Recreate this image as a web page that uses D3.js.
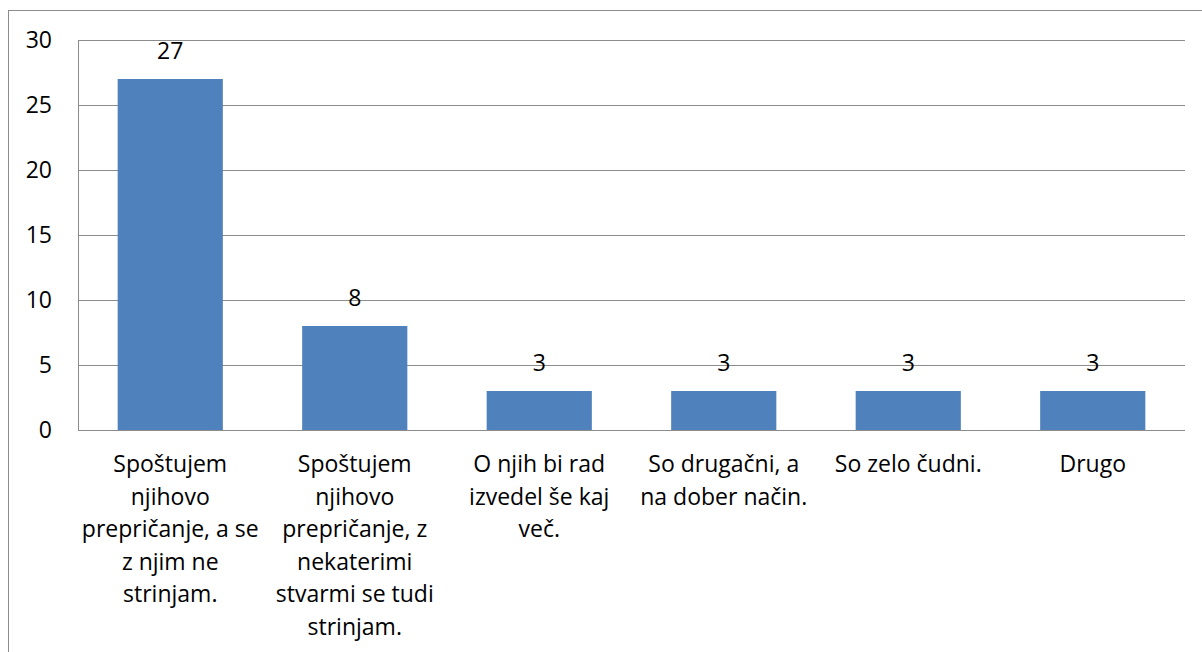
<!DOCTYPE html>
<html>
<head>
<meta charset="utf-8">
<script src="https://cdn.jsdelivr.net/npm/d3@7"></script>
<style>
  body { margin: 0; background: #fff; }
  text { font-family: "Open Sans", "Noto Sans", sans-serif; fill: #000; }
</style>
</head>
<body>
<div id="chart"></div>
<script>
(function() {

  // data
  var categories = [
    "Spoštujem\nnjihovo\nprepričanje, a se\nz njim ne\nstrinjam.",
    "Spoštujem\nnjihovo\nprepričanje, z\nnekaterimi\nstvarmi se tudi\nstrinjam.",
    "O njih bi rad\nizvedel še kaj\nveč.",
    "So drugačni, a\nna dober način.",
    "So zelo čudni.",
    "Drugo"
  ];
  var values = [27, 8, 3, 3, 3, 3];
  var yTicks = [0, 5, 10, 15, 20, 25, 30];

  var W = 1202, H = 652;
  var margin = { top: 40, left: 78, right: 17, bottom: 222 },
  width = W - margin.left - margin.right,
  height = H - margin.top - margin.bottom;

  var fontSize = "23px";

  var svg = d3.select("#chart")
        .append("svg")
        .attr("width", W)
        .attr("height", H);

  // outer chart border (only top/left visible in the frame)
  svg.append("rect")
    .attr("x", 8.5).attr("y", 10.5)
    .attr("width", W + 20).attr("height", H + 20)
    .attr("fill", "none")
    .attr("stroke", "#8c8c8c")
    .attr("stroke-width", 1);

  var g = svg.append("g")
        .attr("transform", "translate(" + margin.left + "," + margin.top + ")");

  var x = d3.scaleBand()
    .domain(d3.range(categories.length))
    .range([0, width])
    .paddingInner(0.43)
    .paddingOuter(0.215);

  var y = d3.scaleLinear().domain([0, 30]).range([height, 0]);

  // gridlines
  g.selectAll(".grid")
    .data(yTicks)
    .enter().append("line")
    .attr("class", "grid")
    .attr("x1", 0).attr("x2", width)
    .attr("y1", function(d){ return Math.round(y(d)) + 0.5; })
    .attr("y2", function(d){ return Math.round(y(d)) + 0.5; })
    .attr("stroke", "#8c8c8c")
    .attr("stroke-width", 1);

  // left axis line
  g.append("line")
    .attr("x1", 0.5).attr("x2", 0.5)
    .attr("y1", 0).attr("y2", height)
    .attr("stroke", "#8c8c8c");

  // y tick labels
  g.selectAll(".ytick")
    .data(yTicks)
    .enter().append("text")
    .attr("class", "ytick")
    .attr("x", -26)
    .attr("y", function(d){ return y(d); })
    .attr("dy", "0.35em")
    .attr("text-anchor", "end")
    .style("font-size", fontSize)
    .text(function(d){ return d; });

  // bars
  g.selectAll(".bar")
    .data(values)
    .enter().append("rect")
    .attr("class", "bar")
    .attr("x", function(d, i){ return x(i); })
    .attr("y", function(d){ return y(d); })
    .attr("width", x.bandwidth())
    .attr("height", function(d){ return height - y(d); })
    .attr("fill", "#4f81bd");

  // value labels
  g.selectAll(".val")
    .data(values)
    .enter().append("text")
    .attr("class", "val")
    .attr("x", function(d, i){ return x(i) + x.bandwidth() / 2; })
    .attr("y", function(d){ return y(d) - 20; })
    .attr("text-anchor", "middle")
    .style("font-size", fontSize)
    .text(function(d){ return d; });

  // category labels
  var labels = g.selectAll(".cat")
    .data(categories)
    .enter().append("text")
    .attr("class", "cat")
    .attr("text-anchor", "middle")
    .style("font-size", fontSize)
    .attr("transform", function(d, i){
      return "translate(" + (x(i) + x.bandwidth() / 2) + "," + (height + 42) + ")";
    });

  labels.selectAll("tspan")
    .data(function(d){ return d.split("\n"); })
    .enter().append("tspan")
    .attr("x", 0)
    .attr("y", function(d, i){ return i * 32.5; })
    .text(function(d){ return d; });

})();
</script>
</body>
</html>
